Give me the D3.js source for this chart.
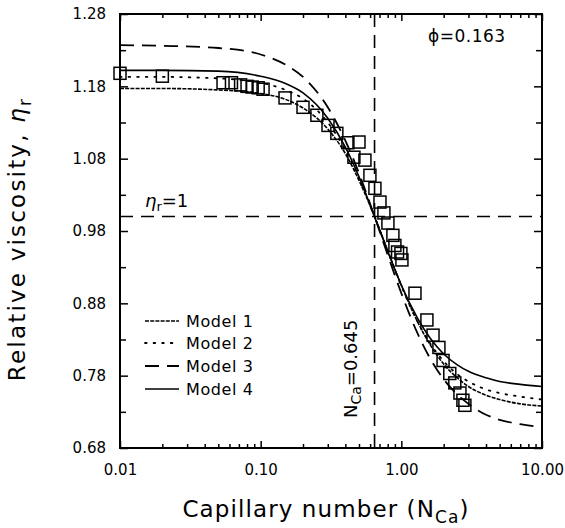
<!DOCTYPE html>
<html><head><meta charset="utf-8">
<script src="https://cdn.jsdelivr.net/npm/d3@7"></script>
<style>
body{margin:0;background:#fff}
svg{display:block}
text{font-family:"DejaVu Sans",sans-serif;fill:#000}
</style>
</head><body>
<svg id="c" width="565" height="528"></svg>
<script>
// ---- data ----
const expCa = [0.010,0.020,0.054,0.062,0.072,0.080,0.087,0.096,0.104,0.149,0.200,0.251,0.301,0.348,0.417,0.460,0.500,0.551,0.598,0.649,0.705,0.752,0.803,0.871,0.900,0.940,0.993,1.01,1.25,1.52,1.68,1.85,1.98,2.21,2.40,2.61,2.74,2.83];
const expEta = [1.198,1.194,1.185,1.185,1.182,1.180,1.179,1.178,1.176,1.164,1.151,1.140,1.126,1.115,1.102,1.082,1.103,1.078,1.057,1.039,1.020,1.005,0.991,0.974,0.960,0.951,0.949,0.940,0.894,0.857,0.836,0.819,0.801,0.783,0.770,0.756,0.746,0.739];

const modelCa = [0.01,0.02,0.05,0.1,0.15,0.2,0.3,0.4,0.5,0.645,0.8,1.0,1.3,1.6,2,2.5,3,4,5,7,10];
const model1 = [1.177,1.177,1.175,1.170,1.162,1.150,1.121,1.087,1.050,1.000,0.953,0.905,0.855,0.823,0.796,0.777,0.765,0.753,0.747,0.741,0.738];
const model2 = [1.193,1.193,1.191,1.185,1.175,1.163,1.130,1.092,1.053,1.000,0.952,0.904,0.855,0.825,0.800,0.782,0.772,0.761,0.756,0.751,0.747];
const model3 = [1.237,1.236,1.233,1.224,1.210,1.193,1.151,1.105,1.060,1.000,0.947,0.894,0.839,0.804,0.775,0.754,0.741,0.726,0.719,0.713,0.709];
const model4 = [1.202,1.202,1.201,1.194,1.184,1.171,1.136,1.096,1.055,1.000,0.952,0.905,0.860,0.832,0.810,0.795,0.786,0.777,0.772,0.768,0.765];

const modelNames = ["Model 1","Model 2","Model 3","Model 4"];
const xMajorTicks = [0.01,0.1,1,10];
const xTickLabels = ["0.01","0.10","1.00","10.00"];
const yMajorTicks = [0.68,0.78,0.88,0.98,1.08,1.18,1.28];
const yMinorTicks = [0.73,0.83,0.93,1.03,1.13,1.23];
const criticalCa = 0.645;
const refEta = 1;

// ---- layout ----
const L=120,R=542,T=14,B=448;
const svg = d3.select("#c");
const x = d3.scaleLog().domain([0.01,10]).range([L,R]);
const y = d3.scaleLinear().domain([0.68,1.28]).range([B,T]);

const xMinor = [];
[0.01,0.1,1].forEach(d=>{for(let k=2;k<=9;k++) xMinor.push(+(d*k).toPrecision(3));});

function styleAxis(g){
  g.select(".domain").remove();
  g.selectAll(".tick line").attr("stroke","#000").attr("stroke-width",1.5);
}
// bottom
svg.append("g").attr("transform",`translate(0,${B})`)
  .call(d3.axisBottom(x).tickValues(xMajorTicks).tickSizeInner(-7).tickSizeOuter(0).tickPadding(16)
    .tickFormat((d,i)=>xTickLabels[i]))
  .call(styleAxis).selectAll("text").attr("font-size",15).attr("font-family","DejaVu Sans");
svg.append("g").attr("transform",`translate(0,${B})`)
  .call(d3.axisBottom(x).tickValues(xMinor).tickSizeInner(-4).tickSizeOuter(0).tickFormat(""))
  .call(styleAxis);
// top
svg.append("g").attr("transform",`translate(0,${T})`)
  .call(d3.axisTop(x).tickValues(xMajorTicks).tickSizeInner(-7).tickSizeOuter(0).tickFormat(""))
  .call(styleAxis);
svg.append("g").attr("transform",`translate(0,${T})`)
  .call(d3.axisTop(x).tickValues(xMinor).tickSizeInner(-4).tickSizeOuter(0).tickFormat(""))
  .call(styleAxis);
// left
svg.append("g").attr("transform",`translate(${L},0)`)
  .call(d3.axisLeft(y).tickValues(yMajorTicks).tickSizeInner(-8).tickSizeOuter(0).tickPadding(14)
    .tickFormat(d3.format(".2f")))
  .call(styleAxis).selectAll("text").attr("font-size",15).attr("font-family","DejaVu Sans");
svg.append("g").attr("transform",`translate(${L},0)`)
  .call(d3.axisLeft(y).tickValues(yMinorTicks).tickSizeInner(-6).tickSizeOuter(0).tickFormat(""))
  .call(styleAxis);
// right
svg.append("g").attr("transform",`translate(${R},0)`)
  .call(d3.axisRight(y).tickValues(yMajorTicks).tickSizeInner(-8).tickSizeOuter(0).tickFormat(""))
  .call(styleAxis);
svg.append("g").attr("transform",`translate(${R},0)`)
  .call(d3.axisRight(y).tickValues(yMinorTicks).tickSizeInner(-6).tickSizeOuter(0).tickFormat(""))
  .call(styleAxis);

// frame
svg.append("rect").attr("x",L).attr("y",T).attr("width",R-L).attr("height",B-T)
  .attr("fill","none").attr("stroke","#000").attr("stroke-width",2);

// reference lines
svg.append("line").attr("x1",L).attr("x2",R).attr("y1",y(refEta)).attr("y2",y(refEta))
  .attr("stroke","#000").attr("stroke-width",1.6).attr("stroke-dasharray","13,8");
svg.append("line").attr("x1",x(criticalCa)).attr("x2",x(criticalCa)).attr("y1",T).attr("y2",B)
  .attr("stroke","#000").attr("stroke-width",1.6).attr("stroke-dasharray","13,8");

// model curves
const styles = [
  {dash:"4,1.2", w:1.6},
  {dash:"1.6,7", w:1.8},
  {dash:"14,8", w:1.8},
  {dash:null, w:1.6}
];
const models=[model1,model2,model3,model4];
const line = d3.line().x(d=>x(d[0])).y(d=>y(d[1])).curve(d3.curveMonotoneX);
models.forEach((m,i)=>{
  svg.append("path").datum(modelCa.map((c,j)=>[c,m[j]]))
    .attr("d",line).attr("fill","none").attr("stroke","#000")
    .attr("stroke-width",styles[i].w)
    .attr("stroke-dasharray",styles[i].dash)
    .attr("stroke-linecap", i===1?"round":"butt");
});

// experimental squares
const sq=12;
svg.append("g").selectAll("rect").data(expCa.map((c,i)=>[c,expEta[i]])).join("rect")
  .attr("x",d=>x(d[0])-sq/2).attr("y",d=>y(d[1])-sq/2).attr("width",sq).attr("height",sq)
  .attr("fill","none").attr("stroke","#000").attr("stroke-width",1.5);

// legend
const legY=[321,343,366,389];
modelNames.forEach((n,i)=>{
  svg.append("line").attr("x1",145).attr("x2",179).attr("y1",legY[i]).attr("y2",legY[i])
    .attr("stroke","#000").attr("stroke-width",styles[i].w)
    .attr("stroke-dasharray",styles[i].dash).attr("stroke-linecap", i===1?"round":"butt");
  svg.append("text").attr("x",186).attr("y",legY[i]).attr("dy","0.36em")
    .attr("font-size",16).attr("letter-spacing",0.6).text(n);
});

// annotations
const t1 = svg.append("text").attr("x",145).attr("y",207).attr("font-size",18);
t1.append("tspan").attr("font-style","italic").text("η");
t1.append("tspan").attr("font-size",13).attr("dy",4).text("r");
t1.append("tspan").attr("dy",-4).text("=1");

svg.append("text").attr("x",428).attr("y",42).attr("font-size",17).attr("letter-spacing",0.5).text("ϕ=0.163");

const t2 = svg.append("text").attr("transform",`translate(357,418) rotate(-90)`).attr("font-size",18);
t2.append("tspan").text("N");
t2.append("tspan").attr("font-size",14).attr("dy",4).text("Ca");
t2.append("tspan").attr("dy",-4).text("=0.645");

// axis titles
const xt = svg.append("text").attr("x",326).attr("y",517).attr("text-anchor","middle")
  .attr("font-size",23).attr("letter-spacing",1.1);
xt.append("tspan").text("Capillary number (N");
xt.append("tspan").attr("font-size",17).attr("dy",6).text("Ca");
xt.append("tspan").attr("dy",-6).text(")");

const yt = svg.append("text").attr("transform",`translate(25,239) rotate(-90)`).attr("text-anchor","middle")
  .attr("font-size",23).attr("letter-spacing",2.2);
yt.append("tspan").text("Relative viscosity, ");
yt.append("tspan").attr("font-style","italic").text("η");
yt.append("tspan").attr("font-size",17).attr("dy",6).text("r");
</script>
</body></html>
